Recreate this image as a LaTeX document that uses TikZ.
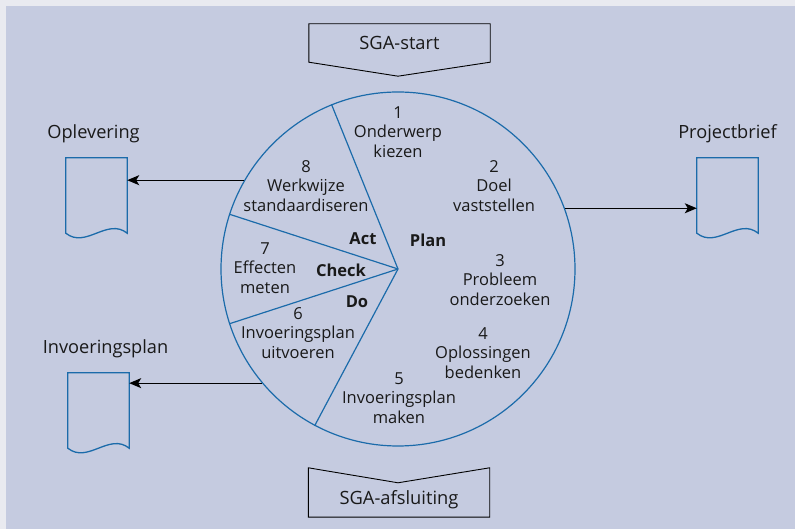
\documentclass[tikz,border=0pt]{standalone}
\usepackage{fontspec}
\setmainfont{Open Sans}
\usepackage{tikz}
\usetikzlibrary{arrows.meta, positioning, calc}
\definecolor{bgblue}{RGB}{197,203,224}
\definecolor{rimgrey}{RGB}{233,234,240}
\definecolor{cycleblue}{RGB}{27,107,170}
\definecolor{inkgrey}{RGB}{25,25,25}

\begin{document}
\begin{tikzpicture}[
        x=1pt, y=1pt,
        phase/.style={align=center, text=inkgrey, inner sep=0pt, font=\fontsize{16.5}{19.5}\selectfont},
        pdca/.style={text=inkgrey, inner sep=0pt, font=\fontsize{16.5}{19.5}\selectfont\bfseries},
        doc/.style={minimum width=61pt, minimum height=75pt, inner sep=0pt},
        doclabel/.style={text=inkgrey, inner sep=0pt, font=\fontsize{18.2}{21}\selectfont},
        flag/.style={minimum width=181pt, inner sep=0pt, text=inkgrey, font=\fontsize{18.3}{21}\selectfont},
        docline/.style={draw=cycleblue, line width=1.3pt},
        flagline/.style={draw=black, line width=0.9pt},
        sector/.style={draw=cycleblue, line width=1.2pt},
        arrow/.style={-{Stealth[length=12pt, width=10pt, inset=3pt]}, line width=1.3pt, black}
    ]

    % Frame and background
    \useasboundingbox (0,0) rectangle (795,529);
    \fill[rimgrey] (0,0) rectangle (795,529);
    \fill[bgblue] (6,0) rectangle (795,523);

    % PDCA circle with its four sectors
    \node[circle, draw=cycleblue, line width=1.2pt, minimum size=354pt, inner sep=0pt] (cyc) at (398,260) {};
    \foreach \a in {112,162,198,242}
        \draw[sector] (cyc.center) -- (cyc.\a);

    % Steps 1-8
    \node[phase] (s1) at (398,397) {1\\Onderwerp\\kiezen};
    \node[phase] (s2) at (494,343) {2\\Doel\\vaststellen};
    \node[phase] (s3) at (500,249) {3\\Probleem\\onderzoeken};
    \node[phase] (s4) at (483,176) {4\\Oplossingen\\bedenken};
    \node[phase] (s5) at (399,131) {5\\Invoeringsplan\\maken};
    \node[phase] (s6) at (298,196) {6\\Invoeringsplan\\uitvoeren};
    \node[phase] (s7) at (265,261) {7\\Effecten\\meten};
    \node[phase] (s8) at (306,343) {8\\Werkwijze\\standaardiseren};

    % Plan / Do / Check / Act
    \node[pdca] (act) at (363,290) {Act};
    \node[pdca] (plan) at (428,289) {Plan};
    \node[pdca] (check) at (341,259) {Check};
    \node[pdca] (do) at (357,227) {Do};

    % Start and end flags
    \node[flag, minimum height=38pt] (start) at (399.5,486) {SGA-start};
    \node[flag, minimum height=34pt] (finish) at (399,29) {SGA-afsluiting};
    \draw[flagline] (start.north west) -- (start.north east) -- (start.south east)
        -- ($(start.south)+(-1.5pt,-14pt)$) -- (start.south west) -- cycle;
    \draw[flagline] (finish.south west) -- (finish.south east) -- ($(finish.north east)+(0,15pt)$)
        -- ($(finish.north)+(-1pt,0)$) -- ($(finish.north west)+(0,15pt)$) -- cycle;

    % Documents
    \node[doc] (opl) at (96.5,333.5) {};
    \node[doc] (brief) at (727.5,333.5) {};
    \node[doc] (inv) at (98.5,118.5) {};
    \foreach \d in {opl,brief,inv}
        \draw[docline] (\d.north west) -- (\d.north east) -- (\d.south east)
            .. controls ($(\d.south east)+(-20pt,16pt)$) and ($(\d.south west)+(20pt,-16pt)$) .. (\d.south west) -- cycle;

    \node[doclabel, above=15pt of opl, xshift=-3pt] (opl_l) {Oplevering};
    \node[doclabel, above=15pt of brief] (brief_l) {Projectbrief};
    \node[doclabel, above=15pt of inv, xshift=7pt] (inv_l) {Invoeringsplan};

    % Output arrows
    \draw[arrow] (cyc.150) -- (cyc.150 -| opl.east);
    \draw[arrow] (cyc.20) -- (cyc.20 -| brief.west);
    \draw[arrow] (cyc.220) -- (cyc.220 -| inv.east);

\end{tikzpicture}
\end{document}
